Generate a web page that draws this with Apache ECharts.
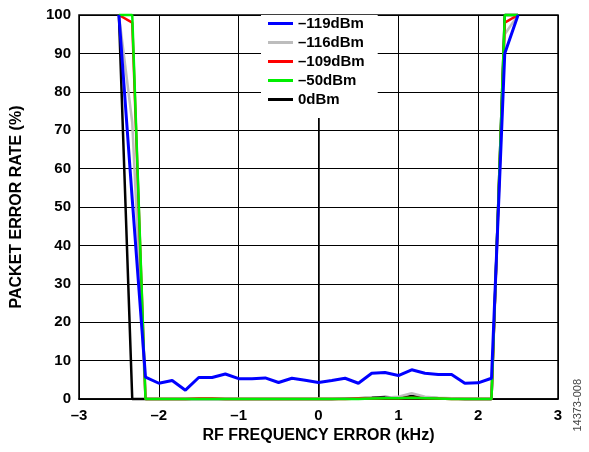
<!DOCTYPE html>
<html><head><meta charset="utf-8">
<script src="https://cdn.jsdelivr.net/npm/echarts@6/dist/echarts.min.js"></script>
<style>html,body{margin:0;padding:0;background:#fff}#c{width:589px;height:452px}</style>
</head><body><div id="c"></div>
<script>
var freqs = [-2.5,-2.333,-2.167,-2,-1.833,-1.667,-1.5,-1.333,-1.167,-1,-0.833,-0.667,-0.5,-0.333,-0.167,0,0.167,0.333,0.5,0.667,0.833,1,1.167,1.333,1.5,1.667,1.833,2,2.167,2.333,2.5];
var seriesNames = ['–119dBm','–116dBm','–109dBm','–50dBm','0dBm'];
var per119 = [100,52,5.7,4.1,4.8,2.3,5.6,5.6,6.5,5.3,5.3,5.5,4.3,5.4,4.9,4.3,4.8,5.4,4.1,6.7,6.9,6.1,7.6,6.7,6.4,6.4,4.1,4.2,5.4,90,100];
var per116 = [100,72,0,0.1,0.1,0.1,0.2,0.2,0.1,0.1,0.1,0.1,0.1,0.1,0.1,0.1,0.1,0.1,0.1,0.2,0.3,0.6,1.5,0.6,0.3,0.2,0.1,0.1,0,95,100];
var per109 = [100,98,0,0,0,0,0.1,0.1,0,0,0,0,0,0,0,0,0,0,0.1,0.1,0.2,0.2,0.3,0.2,0.1,0,0,0,0,98,100];
var per50 = [100,100,0,0,0,0,0,0,0,0,0,0,0,0,0,0,0,0,0,0.1,0.2,0.2,0.3,0.2,0.1,0,0,0,0,100,100];
var per0 = [100,0,0,0,0,0,0,0,0,0,0,0,0,0,0,0,0,0.1,0.2,0.3,0.5,0.3,0.8,0.4,0.2,0.1,0,0,0,100,100];
var xTicks = [-3,-2,-1,0,1,2,3];
var yTicks = [0,10,20,30,40,50,60,70,80,90,100];

var colors = ['#0000ff','#bdbdbd','#ff0000','#00ee00','#000000'];
var widths = [3,2.5,2.5,2.5,2.5];
var zs = [6,3,4,5,2];
var allData = [per119, per116, per109, per50, per0];
function pairs(arr){ return freqs.map(function(f,i){ return [f, arr[i]]; }); }
var font = 'Liberation Sans, Arial, sans-serif';
var series = seriesNames.map(function(n,i){
  return { name:n, type:'line', data:pairs(allData[i]), symbol:'none', clip:false,
    lineStyle:{color:colors[i], width:widths[i]}, itemStyle:{color:colors[i]},
    z: zs[i] };
});
var chart = echarts.init(document.getElementById('c'));
chart.setOption({
  animation:false,
  backgroundColor:'#fff',
  grid:{left:79, right:31, top:15, bottom:53, show:true, borderColor:'#000', borderWidth:1.5, backgroundColor:'transparent'},
  legend:{
    orient:'vertical', left:261, top:15, padding:[1,13,11,7],
    backgroundColor:'#fff', itemWidth:25, itemHeight:3, itemGap:4,
    icon:'rect',
    textStyle:{fontFamily:font, fontWeight:'bold', fontSize:15, color:'#000'},
    data:seriesNames, z:10
  },
  xAxis:{ type:'value', min:-3, max:3, interval:1,
    name:'RF FREQUENCY ERROR (kHz)', nameLocation:'middle', nameGap:29,
    nameTextStyle:{fontFamily:font, fontWeight:'bold', fontSize:16, color:'#000'},
    axisLine:{show:true, onZero:false, lineStyle:{color:'#000', width:1.5}},
    axisTick:{show:false},
    splitLine:{show:true, lineStyle:{color:'#000', width:1}},
    axisLabel:{fontFamily:font, fontWeight:'bold', fontSize:15, color:'#000', margin:9,
      formatter:function(v){ return String(v).replace('-','–'); }}
  },
  yAxis:{ type:'value', min:0, max:100, interval:10,
    name:'PACKET ERROR RATE (%)', nameLocation:'middle', nameGap:54,
    nameTextStyle:{fontFamily:font, fontWeight:'bold', fontSize:16, color:'#000'},
    axisLine:{show:true, lineStyle:{color:'#000', width:1.5}},
    axisTick:{show:false},
    splitLine:{show:true, lineStyle:{color:'#000', width:1}},
    axisLabel:{fontFamily:font, fontWeight:'bold', fontSize:15, color:'#000', margin:8}
  },
  graphic:[{type:'text', left:572, top:379, rotation:Math.PI/2,
    style:{text:'14373-008', fontFamily:font, fontSize:11, fill:'#444'}}],
  series:series
});
</script></body></html>
